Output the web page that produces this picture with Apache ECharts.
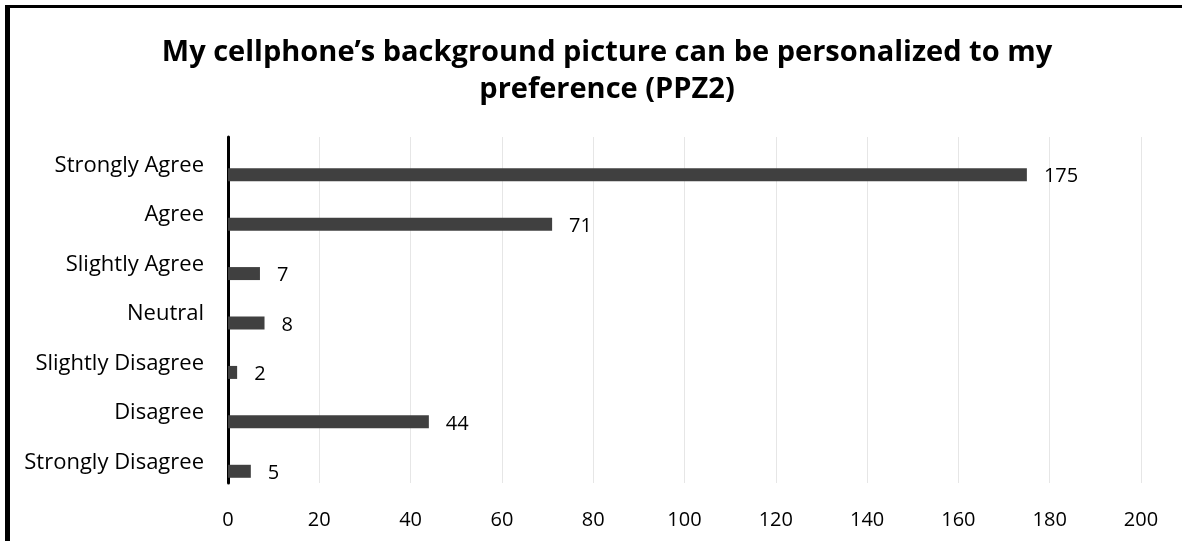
<!DOCTYPE html>
<html>
<head>
<meta charset="utf-8">
<script src="https://cdn.jsdelivr.net/npm/echarts@6/dist/echarts.min.js"></script>
<style>
html,body{margin:0;padding:0;background:#fff;}
#chart{width:1182px;height:541px;}
</style>
</head>
<body>
<div id="chart"></div>
<script>
const titleText = "My cellphone\u2019s background picture can be personalized to my\npreference (PPZ2)";
const categories = ["Strongly Agree","Agree","Slightly Agree","Neutral","Slightly Disagree","Disagree","Strongly Disagree"];
const counts = [175, 71, 7, 8, 2, 44, 5];
const xMin = 0, xMax = 200, xStep = 20;

const chart = echarts.init(document.getElementById('chart'), null, {renderer:'canvas'});
const font = '"Open Sans", sans-serif';
chart.setOption({
  animation:false,
  backgroundColor:'#fff',
  title:{
    text:titleText,
    left:602, top:29, textAlign:'center',
    textStyle:{fontFamily:font, fontWeight:'bold', fontSize:29, color:'#000', lineHeight:37}
  },
  graphic:[
    {type:'rect', shape:{x:5,y:5,width:1177,height:3}, style:{fill:'#000'}},
    {type:'rect', shape:{x:5,y:5,width:5,height:536}, style:{fill:'#000'}}
  ],
  grid:{left:228, right:41, top:137, bottom:58, containLabel:false},
  xAxis:{
    type:'value', min:xMin, max:xMax, interval:xStep,
    axisLine:{show:false}, axisTick:{show:false},
    splitLine:{show:true, lineStyle:{color:'#e6e6e6', width:1}},
    axisLabel:{fontFamily:font, fontSize:20, color:'#000', margin:27}
  },
  yAxis:{
    type:'category', data:categories, inverse:true,
    axisLine:{show:true, lineStyle:{color:'#000', width:3}},
    axisTick:{show:false},
    axisLabel:{fontFamily:font, fontSize:22, color:'#000', margin:24, verticalAlign:'top', lineHeight:8}
  },
  series:[
    {type:'bar', data:[], barWidth:13, barGap:'100%', silent:true},
    {type:'bar', data:counts, barWidth:13, barGap:'100%',
     itemStyle:{color:'#404040'},
     label:{show:true, position:'right', distance:17, offset:[0,2], fontFamily:font, fontSize:20, color:'#000'}}
  ]
});
</script>
</body>
</html>
